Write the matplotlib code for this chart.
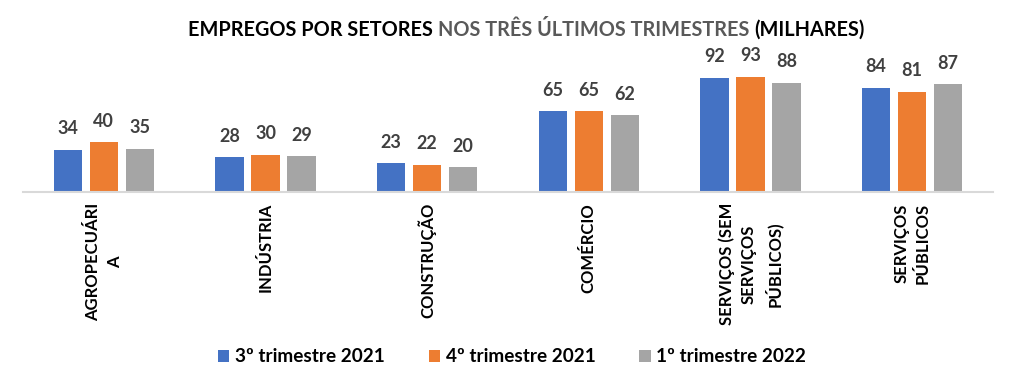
import matplotlib
matplotlib.use("Agg")
import matplotlib.pyplot as plt
import numpy as np
from matplotlib.offsetbox import TextArea, HPacker, AnchoredOffsetbox

categories = ["AGROPECUÁRI\nA", "INDÚSTRIA", "CONSTRUÇÃO", "COMÉRCIO",
              "SERVIÇOS (SEM\nSERVIÇOS\nPÚBLICOS)", "SERVIÇOS\nPÚBLICOS"]
series_names = ["3º trimestre 2021", "4º trimestre 2021", "1º trimestre 2022"]
q3_2021 = [34, 28, 23, 65, 92, 84]
q4_2021 = [40, 30, 22, 65, 93, 81]
q1_2022 = [35, 29, 20, 62, 88, 87]
colors = ["#4472C4", "#ED7D31", "#A5A5A5"]

plt.rcParams['font.family'] = ['Lato', 'DejaVu Sans']

fig = plt.figure(figsize=(10.16, 3.91), dpi=100)
ax = fig.add_axes([23/1016, 1 - 192/391, (993-23)/1016, (192-68)/391])

x = np.arange(len(categories))
width = 0.176
step = 0.223
for i, (vals, name, c) in enumerate(zip([q3_2021, q4_2021, q1_2022], series_names, colors)):
    bars = ax.bar(x + (i - 1) * step, vals, width, color=c, label=name, zorder=2)
    for b, v in zip(bars, vals):
        ax.annotate(str(v), (b.get_x() + b.get_width() / 2, v), xytext=(0, 9),
                    textcoords="offset points", ha="center", va="bottom",
                    fontsize=13, fontweight="bold", color="#404040")

ax.set_xlim(-0.5, len(categories) - 0.5)
ax.set_ylim(0, 100)
for s in ["top", "right", "left"]:
    ax.spines[s].set_visible(False)
ax.spines["bottom"].set_color("#D9D9D9")
ax.spines["bottom"].set_linewidth(1.5)
ax.set_yticks([])
ax.set_xticks(x)
ax.set_xticklabels(categories, rotation=90, fontsize=12, fontweight="bold",
                   va="top", ha="center", linespacing=1.45)
ax.tick_params(axis="x", length=0, pad=8)

# Title with two colours
tp = dict(fontsize=14.3, fontweight="bold")
t1 = TextArea("EMPREGOS POR SETORES ", textprops=dict(color="black", **tp))
t2 = TextArea("NOS TRÊS ÚLTIMOS TRIMESTRES ", textprops=dict(color="#595959", **tp))
t3 = TextArea("(MILHARES)", textprops=dict(color="black", **tp))
box = HPacker(children=[t1, t2, t3], align="baseline", pad=0, sep=0)
anch = AnchoredOffsetbox(loc="center", child=box, pad=0, frameon=False,
                         bbox_to_anchor=(526/1016, 1 - 30/391),
                         bbox_transform=fig.transFigure, borderpad=0)
fig.add_artist(anch)

fig.legend(loc="center", bbox_to_anchor=(512/1016, 1 - 357/391), ncol=3, frameon=False,
           prop=dict(size=13.7, weight="bold"), handlelength=0.6, handleheight=0.6,
           columnspacing=2.3, handletextpad=0.3)

fig.savefig("out.png", dpi=100)
